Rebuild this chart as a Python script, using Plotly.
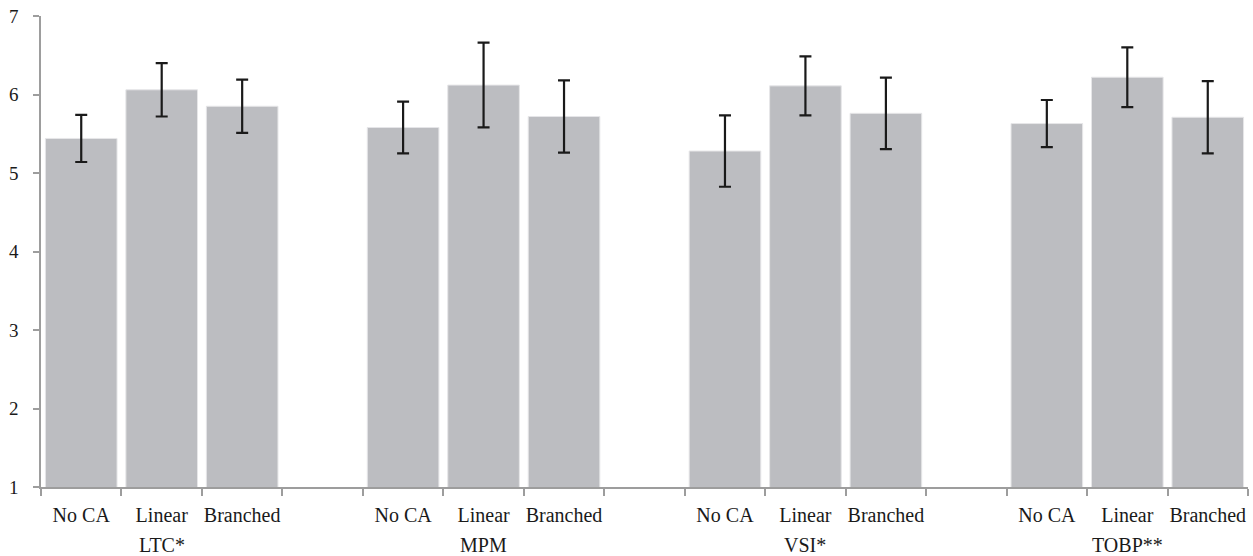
import plotly.graph_objects as go

# Groups and conditions
groups = ["LTC*", "MPM", "VSI*", "TOBP**"]
conditions = ["No CA", "Linear", "Branched"]

# Mean ratings per condition within each group
ltc_mean = [5.44, 6.06, 5.85]
mpm_mean = [5.58, 6.12, 5.72]
vsi_mean = [5.28, 6.11, 5.76]
tobp_mean = [5.63, 6.22, 5.71]

# Symmetric error (+/-) for each bar
ltc_err = [0.30, 0.34, 0.34]
mpm_err = [0.33, 0.54, 0.46]
vsi_err = [0.455, 0.375, 0.455]
tobp_err = [0.30, 0.38, 0.46]

y_ticks = [1, 2, 3, 4, 5, 6, 7]

means = [ltc_mean, mpm_mean, vsi_mean, tobp_mean]
errs = [ltc_err, mpm_err, vsi_err, tobp_err]

# Each group takes three slots followed by one empty slot
slot = len(conditions) + 1
xs, ys, es, labels = [], [], [], []
for g in range(len(groups)):
    for c in range(len(conditions)):
        xs.append(g * slot + c)
        ys.append(means[g][c])
        es.append(errs[g][c])
        labels.append(conditions[c])

n_slots = len(groups) * slot - 1
boundaries = [i - 0.5 for i in range(n_slots + 1)]

font_family = "Liberation Serif"
text_color = "#1a1a1a"
axis_color = "#9d9d9d"

fig = go.Figure()
fig.add_trace(go.Bar(
    x=xs,
    y=ys,
    marker=dict(color="#bcbdc1", line=dict(color="#e6e6e8", width=1)),
    error_y=dict(type="data", array=es, visible=True,
                 color="#1a1a1a", thickness=2.2, width=6),
    hoverinfo="x+y",
))

for g, name in enumerate(groups):
    fig.add_annotation(
        x=g * slot + 1, y=0, xref="x", yref="paper",
        text=name, showarrow=False, yanchor="middle",
        yshift=-58, font=dict(family=font_family, size=20, color=text_color),
    )

fig.update_layout(
    width=1253, height=556,
    margin=dict(l=41, r=5, t=16, b=69),
    paper_bgcolor="white", plot_bgcolor="white",
    bargap=0.11,
    showlegend=False,
    font=dict(family=font_family, size=20, color=text_color),
)

fig.update_xaxes(
    range=[-0.5, n_slots - 0.5],
    tickmode="array", tickvals=xs, ticktext=labels,
    ticks="", showgrid=False, zeroline=False,
    showline=True, linecolor=axis_color, linewidth=1.5,
    ticklabelstandoff=9,
    tickfont=dict(family=font_family, size=20, color=text_color),
    minor=dict(tickmode="array", tickvals=boundaries, ticks="outside",
               ticklen=7, tickwidth=1.5, tickcolor=axis_color, showgrid=False),
)

fig.update_yaxes(
    range=[1, 7],
    tickmode="array", tickvals=y_ticks,
    ticks="outside", ticklen=6, tickwidth=1.5, tickcolor=axis_color,
    showgrid=False, zeroline=False,
    showline=True, linecolor=axis_color, linewidth=1.5,
    ticklabelstandoff=11,
    tickfont=dict(family=font_family, size=19, color=text_color),
)

fig.write_html("out.html")
